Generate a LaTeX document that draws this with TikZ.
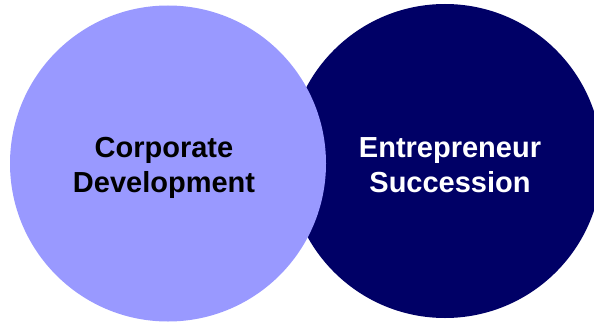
\documentclass[tikz,border=0pt]{standalone}
\usepackage{fontspec}
\setmainfont{Liberation Sans}
\usetikzlibrary{positioning}
\definecolor{lilac}{HTML}{9999FF}
\definecolor{navy}{HTML}{000066}
\tikzstyle{bubble}=[circle,inner sep=0pt,outer sep=0pt,minimum size=314pt]
\tikzstyle{caption}=[align=center,font=\bfseries\fontsize{29}{35}\selectfont,inner sep=0pt]

\begin{document}
\begin{tikzpicture}[x=1pt,y=1pt]
  \useasboundingbox (0,0) rectangle (594,322);

  % circles, right one first so the left one lies on top
  \node[bubble,fill=navy,minimum size=314pt] (succ) at (445,161) {};
  \node[bubble,fill=lilac,minimum size=316pt] (corp) at (168,158.5) {};

  % Labels
  \node[caption,text=black] (corplabel) at (164,154.6) {Corporate\\Development};
  \node[caption,text=white] (succlabel) at (450,157.3) {Entrepreneur\\Succession};

\end{tikzpicture}
\end{document}
